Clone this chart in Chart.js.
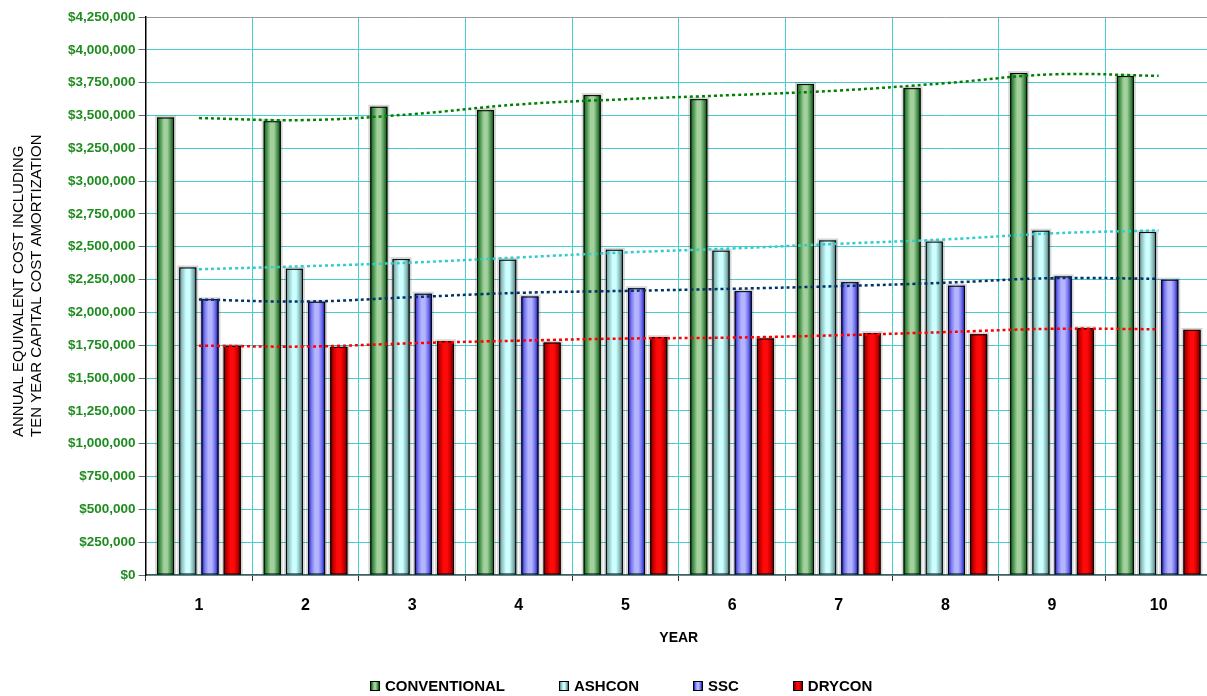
<!DOCTYPE html>
<html>
<head>
<meta charset="utf-8">
<script src="https://cdn.jsdelivr.net/npm/chart.js@4.4.1/dist/chart.umd.min.js"></script>
<style>
  html, body { margin: 0; padding: 0; background: #fff; overflow: hidden; }
  #wrap { position: relative; width: 1212px; height: 696px; }
  #legend {
    position: absolute; left: 370px; top: 678px;
    display: flex; gap: 54px;
    font: bold 15px "Liberation Sans", Arial, sans-serif; line-height: 15px; color: #000;
  }
  #legend .item { display: flex; align-items: center; }
  #legend .box { width: 8px; height: 8px; border: 1px solid #000; margin-right: 5px; }
</style>
</head>
<body>
<div id="wrap">
  <canvas id="cost-chart"></canvas>
  <div id="legend"></div>
</div>
<script>
const years = ['1', '2', '3', '4', '5', '6', '7', '8', '9', '10'];
const seriesNames = ['CONVENTIONAL', 'ASHCON', 'SSC', 'DRYCON'];

const conventional = [3484000, 3456000, 3566000, 3540000, 3655000, 3624000, 3739000, 3708000, 3823000, 3800000];
const ashcon = [2342000, 2332000, 2406000, 2401000, 2477000, 2470000, 2548000, 2539000, 2622000, 2612000];
const ssc = [2100000, 2081000, 2142000, 2121000, 2184000, 2162000, 2230000, 2203000, 2274000, 2249000];
const drycon = [1745000, 1737000, 1780000, 1770000, 1811000, 1801000, 1843000, 1833000, 1879000, 1867000];

// dotted trend lines, read at each year
const conventionalTrend = [3480000, 3465000, 3510000, 3584000, 3624000, 3655000, 3690000, 3746000, 3813000, 3802000];
const ashconTrend = [2329000, 2352000, 2380000, 2419000, 2457000, 2487000, 2523000, 2556000, 2602000, 2625000];
const sscTrend = [2098000, 2083000, 2116000, 2149000, 2164000, 2180000, 2200000, 2226000, 2261000, 2256000];
const dryconTrend = [1747000, 1740000, 1765000, 1785000, 1801000, 1808000, 1826000, 1850000, 1875000, 1872000];

const yMax = 4250000;
const yStep = 250000;
const yTitleLines = ['ANNUAL EQUIVALENT COST INCLUDING', 'TEN YEAR CAPITAL COST AMORTIZATION'];

const shades = [
  ['#11571a', '#4c9a52', '#a4d09e', '#a4d09e', '#4a9550', '#0b4710'],
  ['#5f8d8d', '#9ccccc', '#ccffff', '#ccffff', '#8fbfbf', '#3f6b6b'],
  ['#1a1ab8', '#7a7af0', '#b4b4ff', '#b4b4ff', '#7070ee', '#10109a'],
  ['#6a0000', '#cc0000', '#ff0a0a', '#ff0a0a', '#c80000', '#5a0000']
];
const trendColors = ['#008000', '#33cccc', '#003366', '#ff0000'];
const gridColor = '#47cfcf';
const font = '"Liberation Sans", Arial, sans-serif';

const barShade = {
  id: 'barShade',
  beforeDatasetDraw(chart, args) {
    if (args.meta.type !== 'bar') return;
    const ctx = chart.ctx;
    ctx.save();
    ctx.fillStyle = 'rgba(0,0,0,0.16)';
    args.meta.data.forEach(bar => {
      const p = bar.getProps(['x', 'y', 'base', 'width'], true);
      ctx.fillRect(p.x - p.width / 2 - 2, p.y - 2, p.width + 4, p.base - p.y + 2);
    });
    ctx.restore();
  },
  afterDatasetDraw(chart, args) {
    if (args.meta.type !== 'bar') return;
    const stops = chart.data.datasets[args.index].shade;
    const ctx = chart.ctx;
    ctx.save();
    args.meta.data.forEach(bar => {
      const p = bar.getProps(['x', 'y', 'base', 'width'], true);
      const left = p.x - p.width / 2;
      const g = ctx.createLinearGradient(left, 0, left + p.width, 0);
      stops.forEach((c, i) => g.addColorStop(i / (stops.length - 1), c));
      ctx.fillStyle = g;
      ctx.fillRect(left, p.y, p.width, p.base - p.y);
      ctx.strokeStyle = '#000';
      ctx.lineWidth = 1;
      ctx.strokeRect(left + 0.5, p.y + 0.5, p.width - 1, p.base - p.y - 1);
    });
    ctx.restore();
  }
};

const yTitle = {
  id: 'yTitle',
  afterDraw(chart) {
    const ctx = chart.ctx;
    ctx.save();
    ctx.font = '15px ' + font;
    ctx.fillStyle = '#000';
    ctx.textAlign = 'left';
    ctx.textBaseline = 'middle';
    yTitleLines.forEach((line, i) => {
      ctx.save();
      ctx.translate(19 + i * 18, 437);
      ctx.rotate(-Math.PI / 2);
      ctx.fillText(line, 0, 0);
      ctx.restore();
    });
    ctx.restore();
  }
};

const barData = [conventional, ashcon, ssc, drycon];
const trendData = [conventionalTrend, ashconTrend, sscTrend, dryconTrend];

const datasets = barData.map((values, i) => ({
  type: 'bar',
  label: seriesNames[i],
  data: values,
  shade: shades[i],
  backgroundColor: shades[i][2],
  borderColor: '#000',
  borderWidth: 1,
  categoryPercentage: 0.833,
  barPercentage: 0.765,
  order: 1
})).concat(trendData.map((values, i) => ({
  type: 'line',
  label: seriesNames[i] + ' trend',
  data: values,
  borderColor: trendColors[i],
  borderWidth: 2.5,
  borderDash: [3, 3],
  pointRadius: 0,
  tension: 0.4,
  fill: false,
  order: 0
})));

Chart.defaults.font.family = font;

const costChart = new Chart(document.getElementById('cost-chart').getContext('2d'), {
  data: { labels: years, datasets: datasets },
  options: {
    responsive: true,
    maintainAspectRatio: false,
    animation: false,
    layout: { padding: { left: 65, right: 0, top: 17, bottom: 49 } },
    plugins: {
      legend: { display: false },
      tooltip: { enabled: false }
    },
    scales: {
      x: {
        ticks: { color: '#000', font: { size: 16, weight: 'bold' }, padding: 15 },
        grid: { color: gridColor, tickColor: '#333', tickLength: 6, offset: true },
        border: { color: '#555', width: 1.5 },
        title: {
          display: true, text: 'YEAR', color: '#000',
          font: { size: 14, weight: 'bold' }, padding: { top: 0, bottom: 0 }
        }
      },
      y: {
        min: 0,
        max: yMax,
        ticks: {
          stepSize: yStep,
          color: '#1e8c1e',
          font: { size: 13.5, weight: 'bold' },
          padding: 3,
          callback: v => '$' + v.toLocaleString('en-US')
        },
        grid: {
          color: c => (c.tick && c.tick.value === yMax ? '#9a9a9a' : gridColor),
          tickColor: '#666',
          tickLength: 7
        },
        border: { color: '#000', width: 1.5 }
      }
    }
  },
  plugins: [barShade, yTitle]
});

// legend below the chart, boxes shaded like the bars
const legendEl = document.getElementById('legend');
seriesNames.forEach((name, i) => {
  const item = document.createElement('div');
  item.className = 'item';
  const box = document.createElement('span');
  box.className = 'box';
  box.style.background = 'linear-gradient(to right, ' + shades[i].join(', ') + ')';
  const text = document.createElement('span');
  text.textContent = name;
  item.appendChild(box);
  item.appendChild(text);
  legendEl.appendChild(item);
});
</script>
</body>
</html>
